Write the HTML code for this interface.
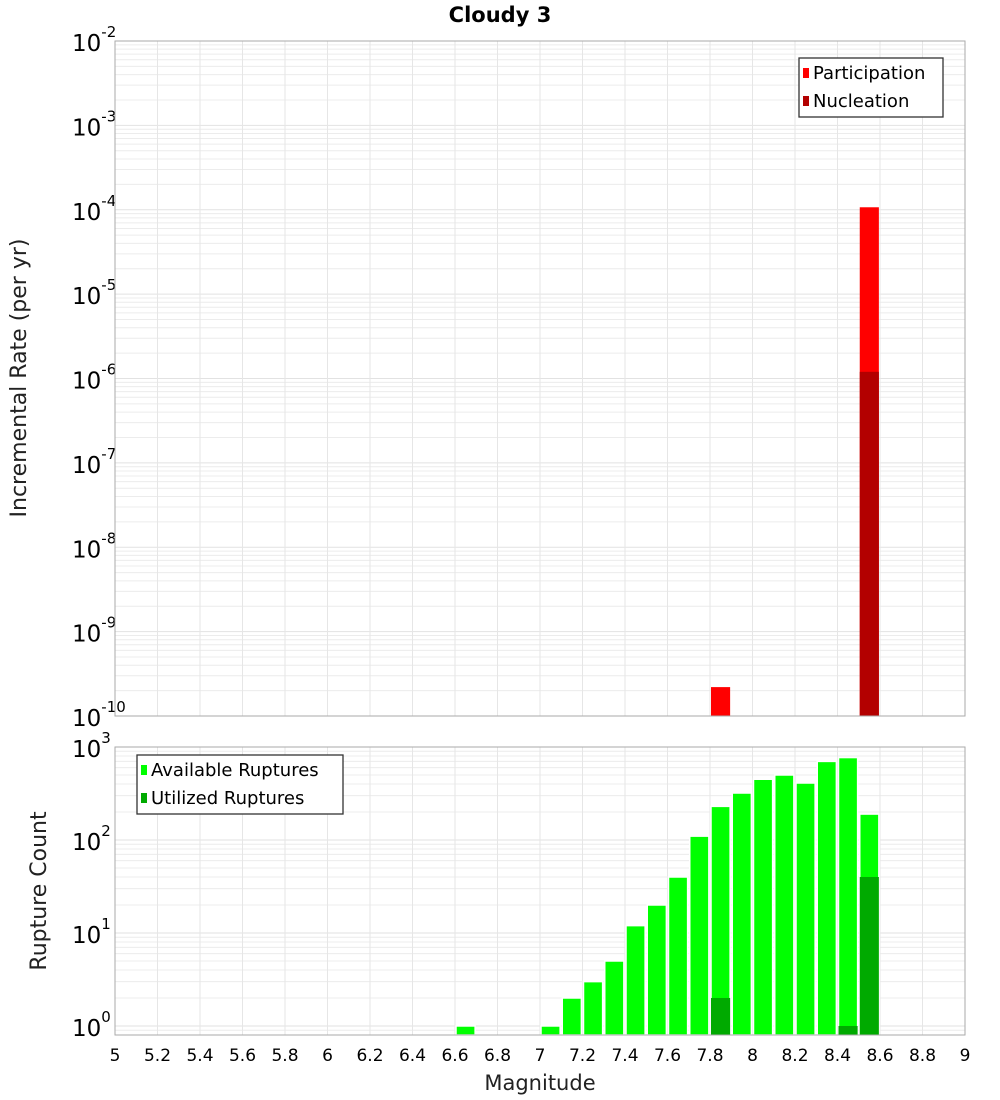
<!DOCTYPE html>
<html><head><meta charset="utf-8"><style>
body{margin:0;background:#fff;}
svg{display:block;font-family:"DejaVu Sans","Liberation Sans",sans-serif;}
</style></head><body>
<svg id="c" width="1000" height="1100" viewBox="0 0 1000 1100" xmlns="http://www.w3.org/2000/svg">
<text x="500" y="22" text-anchor="middle" font-size="21" font-weight="bold">Cloudy 3</text>
<g id="top"></g><g id="bot"></g>
<text transform="translate(26,378) rotate(-90)" text-anchor="middle" font-size="22" fill="#222">Incremental Rate (per yr)</text>
<text transform="translate(46,891) rotate(-90)" text-anchor="middle" font-size="22" fill="#222">Rupture Count</text>
<text x="540" y="1090" text-anchor="middle" font-size="21" fill="#222">Magnitude</text>
</svg>
<script>
const partMags=[7.85,8.55];
const partVals=[2.2e-10,1.07e-4];
const nuclMags=[8.55];
const nuclVals=[1.2e-6];
const availMags=[6.65,7.05,7.15,7.25,7.35,7.45,7.55,7.65,7.75,7.85,7.95,8.05,8.15,8.25,8.35,8.45,8.55];
const availVals=[1,1,2,3,5,12,20,40,110,230,320,450,500,410,700,770,190];
const utilMags=[7.85,8.45,8.55];
const utilVals=[2,1,40];
const xTicks=[5,5.2,5.4,5.6,5.8,6,6.2,6.4,6.6,6.8,7,7.2,7.4,7.6,7.8,8,8.2,8.4,8.6,8.8,9];
const topExp=[-2,-3,-4,-5,-6,-7,-8,-9,-10];
const botExp=[0,1,2,3];

const NS="http://www.w3.org/2000/svg";
const X0=115,X1=965;
function x(m){return X0+(m-5)/4*(X1-X0);}
function mk(p,tag,at){const e=document.createElementNS(NS,tag);for(const k in at)e.setAttribute(k,at[k]);p.appendChild(e);return e;}
function panel(g,top,bot,lmin,lmax,exps,name){
  const y=v=>bot-(Math.log10(v)-lmin)/(lmax-lmin)*(bot-top);
  for(let d=Math.floor(lmin);d<=Math.ceil(lmax);d++)for(let k=1;k<10;k++){const v=k*Math.pow(10,d);const yy=y(v);if(yy<top-0.1||yy>bot+0.1)continue;
    const l=mk(g,'line',{x1:X0,x2:X1,y1:yy,y2:yy,stroke:k==1?'#e2e2e2':'#ececec','stroke-width':1});
    
    }
  xTicks.forEach(t=>{const l=mk(g,'line',{x1:x(t),x2:x(t),y1:top,y2:bot,stroke:'#e6e6e6'});
    
    });
  exps.forEach(e=>{const yy=y(Math.pow(10,e));const t=mk(g,'text',{x:72,y:yy+10,'text-anchor':'start','font-size':23});
    
    
    t.innerHTML='10<tspan font-size="15" dy="-14">'+e+'</tspan>';});
  return y;
}
const gt=document.getElementById('top'),gb=document.getElementById('bot');
const yt=panel(gt,41,716,-10,-2,topExp,'top');
const LB=Math.log10(0.8);
const yb=panel(gb,747,1035,LB,3,botExp,'bottom');
function bars(g,y,bot,mags,vals,col,stroke,name){
  mags.forEach((m,i)=>{const yy=y(vals[i]);const r=mk(g,'rect',{x:x(m-0.05)+1,y:yy,width:x(m+0.04)-x(m-0.05),height:bot-yy,fill:col});
    if(stroke){r.setAttribute('stroke','#fff');r.setAttribute('stroke-width',1.5);}
    
    });
}
bars(gt,yt,716,partMags,partVals,'#ff0000',false,'participation-bar');
bars(gt,yt,716,nuclMags,nuclVals,'#b30000',false,'nucleation-bar');
bars(gb,yb,1035,availMags,availVals,'#00ff00',true,'available-bar');
bars(gb,yb,1035,utilMags,utilVals,'#00aa00',false,'utilized-bar');
[[41,716],[747,1035]].forEach(([a,b])=>{const r=mk(document.getElementById('c'),'rect',{x:X0,y:a,width:X1-X0,height:b-a,fill:'none',stroke:'#aaa'});
  
  });
xTicks.forEach(t=>{const l=mk(gb,'text',{x:x(t),y:1061,'text-anchor':'middle','font-size':17});
  
  
  l.textContent=String(t);});
function legend(px,py,w,items,name){
  const g=mk(document.getElementById('c'),'g',{});
  
  
  mk(g,'rect',{x:px,y:py,width:w,height:59,fill:'#fff',stroke:'#333','stroke-width':1.3});
  items.forEach((it,i)=>{mk(g,'rect',{x:px+4,y:py+10+i*28,width:6,height:10,fill:it[1]});
    const t=mk(g,'text',{x:px+14,y:py+21+i*28,'font-size':18});
    
    
    t.textContent=it[0];});
}
legend(799,58,144,[['Participation','#ff0000'],['Nucleation','#b30000']],'top-legend');
legend(137,755,206,[['Available Ruptures','#00ff00'],['Utilized Ruptures','#00aa00']],'bottom-legend');
</script>
</body></html>
